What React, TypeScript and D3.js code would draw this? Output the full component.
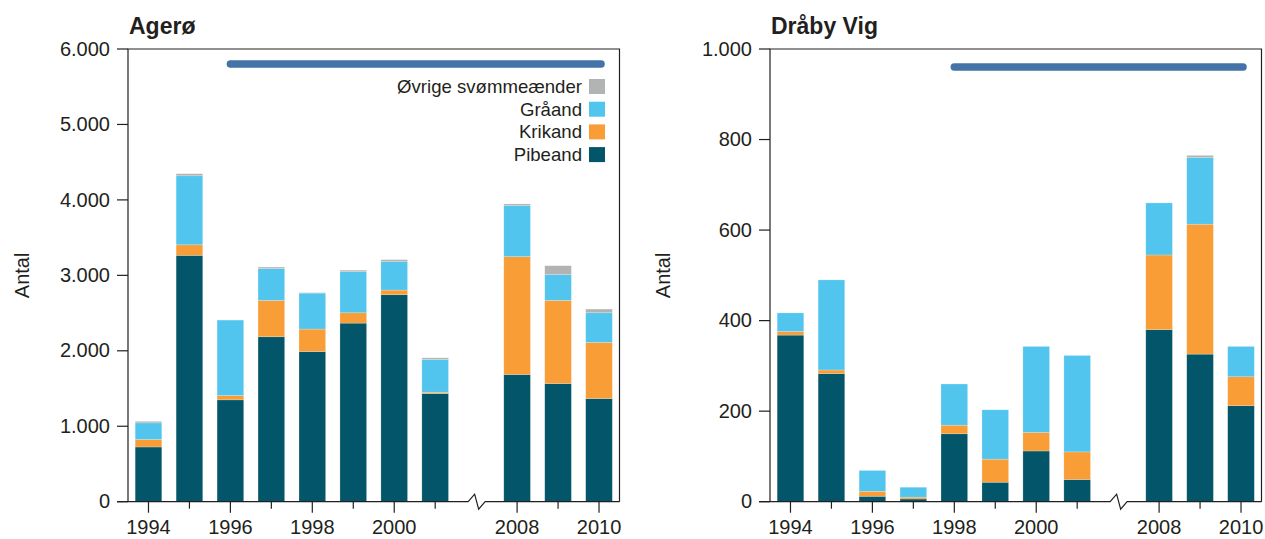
import React, { useRef, useEffect } from 'react';
import * as d3 from 'd3';

// years shown on both panels (there is a break between 2001 and 2008)
const years = ['1994', '1995', '1996', '1997', '1998', '1999', '2000', '2001', '2008', '2009', '2010'];
const labelYears = ['1994', '1996', '1998', '2000', '2008', '2010'];
const species = ['Pibeand', 'Krikand', 'Gråand', 'Øvrige svømmeænder'];
const colors = ['#035669', '#f99d36', '#52c5ef', '#b2b3b3'];

// Agerø
const agPibeand = [725, 3265, 1350, 2186, 1990, 2367, 2743, 1434, 1686, 1566, 1367];
const agKrikand = [100, 140, 57, 482, 298, 137, 62, 17, 1562, 1102, 744];
const agGraaand = [220, 915, 1000, 422, 477, 545, 376, 434, 677, 341, 393];
const agOvrige = [20, 27, 0, 20, 5, 20, 27, 22, 22, 119, 49];
const agTicks = [0, 1000, 2000, 3000, 4000, 5000, 6000];

// Dråby Vig
const dvPibeand = [368, 283, 12, 6, 150, 43, 112, 49, 380, 326, 212];
const dvKrikand = [8, 8, 11, 4, 19, 51, 41, 61, 165, 287, 64];
const dvGraaand = [41, 199, 46, 22, 91, 109, 190, 213, 115, 147, 67];
const dvOvrige = [0, 0, 0, 0, 0, 0, 0, 0, 0, 5, 0];
const dvTicks = [0, 200, 400, 600, 800, 1000];

const ink = '#231f20';
const font = '"Liberation Sans", Arial, sans-serif';
const fmt = (v: number) => d3.format(',')(v).replace(/,/g, '.');

const panels = [
  {
    title: 'Agerø', left: 128, right: 619.5, yMax: 6000, ticks: agTicks, antalX: 22,
    series: [agPibeand, agKrikand, agGraaand, agOvrige],
    period: ['1996', '2010'], periodValue: 5800, legend: true,
  },
  {
    title: 'Dråby Vig', left: 770, right: 1261.5, yMax: 1000, ticks: dvTicks, antalX: 663,
    series: [dvPibeand, dvKrikand, dvGraaand, dvOvrige],
    period: ['1998', '2010'], periodValue: 960, legend: false,
  },
];

const App = () => {
  const ref = useRef<SVGSVGElement>(null);

  useEffect(() => {
    const svg = d3.select(ref.current);
    svg.selectAll('*').remove();

    const top = 49;
    const bottom = 501.7;

    panels.forEach(p => {
      const g = svg.append('g');
      const slots = [...years.slice(0, 8), 'break', ...years.slice(8)];

      const x = d3.scaleBand()
        .domain(slots)
        .range([p.left, p.right])
        .paddingInner(0.35)
        .paddingOuter(0.175);

      const y = d3.scaleLinear().domain([0, p.yMax]).range([bottom, top]);

      const rows = years.map((yr, i) => {
        const r: any = { year: yr };
        species.forEach((s, k) => { r[s] = p.series[k][i]; });
        return r;
      });
      const stacked = d3.stack().keys(species)(rows);

      g.selectAll('g.layer')
        .data(stacked)
        .enter().append('g')
        .attr('class', 'layer')
        .attr('fill', (d, i) => colors[i])
        .selectAll('rect')
        .data(d => d)
        .enter().append('rect')
        .attr('x', (d: any) => x(d.data.year) as number)
        .attr('width', x.bandwidth())
        .attr('y', d => y(d[1]))
        .attr('height', d => Math.max(0, y(d[0]) - y(d[1])))
        .attr('stroke', '#ffffff')
        .attr('stroke-opacity', 0.35)
        .attr('stroke-width', 0.6);

      // frame: left axis, top and right border
      g.append('path')
        .attr('d', `M${p.left},${bottom}V${top}H${p.right}V${bottom}`)
        .attr('fill', 'none')
        .attr('stroke', ink)
        .attr('stroke-width', 1.2);

      // bottom axis with break
      const c = (x('break') as number) + x.bandwidth() / 2;
      g.append('path')
        .attr('d', `M${p.left - 11},${bottom}H${c - 8}L${c - 1.5},${bottom - 7.5}L${c + 2.5},${bottom + 7.5}L${c + 9},${bottom}H${p.right}`)
        .attr('fill', 'none')
        .attr('stroke', ink)
        .attr('stroke-width', 1.2);

      // y ticks
      const yt = g.selectAll('g.yt').data(p.ticks).enter().append('g')
        .attr('transform', d => `translate(0,${y(d)})`);
      yt.append('line')
        .attr('x1', p.left - 11).attr('x2', p.left)
        .attr('stroke', ink).attr('stroke-width', 1.2);
      yt.append('text')
        .attr('x', p.left - 18)
        .attr('dy', '0.33em')
        .attr('text-anchor', 'end')
        .attr('font-size', 20)
        .attr('font-family', font)
        .attr('fill', ink)
        .text(d => fmt(d));

      // x ticks
      const xt = g.selectAll('g.xt').data(years).enter().append('g')
        .attr('transform', d => `translate(${(x(d) as number) + x.bandwidth() / 2},${bottom})`);
      xt.append('line')
        .attr('y2', d => labelYears.includes(d) ? 11 : 7)
        .attr('stroke', ink).attr('stroke-width', 1.2);
      xt.filter(d => labelYears.includes(d)).append('text')
        .attr('y', 32.5)
        .attr('text-anchor', 'middle')
        .attr('font-size', 20)
        .attr('font-family', font)
        .attr('fill', ink)
        .text(d => d);

      // title and y label
      g.append('text')
        .attr('x', p.left + 1).attr('y', 34)
        .attr('font-size', 23).attr('font-weight', 'bold')
        .attr('font-family', font).attr('fill', ink)
        .text(p.title);
      g.append('text')
        .attr('transform', `translate(${p.antalX + 7},${(top + bottom) / 2}) rotate(-90)`)
        .attr('text-anchor', 'middle')
        .attr('font-size', 20)
        .attr('font-family', font).attr('fill', ink)
        .text('Antal');

      // period bar
      const py = y(p.periodValue);
      g.append('line')
        .attr('x1', (x(p.period[0]) as number) + x.bandwidth() / 2)
        .attr('x2', (x(p.period[1]) as number) + x.bandwidth() / 2 + 2)
        .attr('y1', py).attr('y2', py)
        .attr('stroke', '#4473a8')
        .attr('stroke-width', 7.5)
        .attr('stroke-linecap', 'round');

      if (p.legend) {
        const order = [3, 2, 1, 0];
        const lg = g.selectAll('g.lg').data(order).enter().append('g')
          .attr('transform', (d, i) => `translate(589,${79 + i * 22.7})`);
        lg.append('rect')
          .attr('width', 16).attr('height', 15)
          .attr('fill', d => colors[d]);
        lg.append('text')
          .attr('x', -7).attr('y', 7.5).attr('dy', '0.35em')
          .attr('text-anchor', 'end')
          .attr('font-size', 18.6)
          .attr('font-family', font).attr('fill', ink)
          .text(d => species[d]);
      }
    });
  }, []);

  return (
    <svg ref={ref} width={1265} height={539}
      style={{ position: 'absolute', left: 0, top: 0, background: '#ffffff' }} />
  );
};

export default App;
